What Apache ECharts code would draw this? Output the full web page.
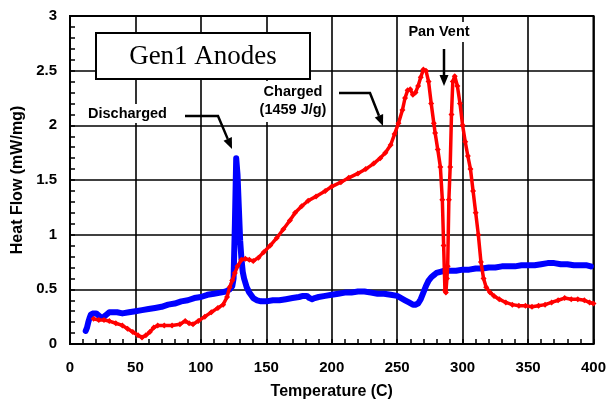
<!DOCTYPE html>
<html>
<head>
<meta charset="utf-8">
<script src="https://cdn.jsdelivr.net/npm/echarts@6/dist/echarts.min.js"></script>
<style>
  html, body { margin: 0; padding: 0; background: #fff; }
  #chart { width: 609px; height: 405px; }
</style>
</head>
<body>
<div id="chart"></div>
<script>
// DSC heat flow vs temperature for Gen1 anodes
const xTicks = { min: 0, max: 400, interval: 50 };
const yTicks = { min: 0, max: 3, interval: 0.5 };

// Discharged anode
const dischargedT = [12,13,14,15,16,17,18,20,22,24,26,28,30,33,36,40,45,50,55,60,65,70,75,80,85,90,95,100,105,110,115,119,122,124,125,126,127,128,129,130,131,132,133,135,137,140,143,146,150,155,160,165,170,175,178,181,183,185,187,190,195,200,205,210,215,220,225,230,235,240,245,250,253,256,259,262,264,266,268,270,272,274,276,278,280,283,286,290,295,300,305,310,315,320,325,330,335,340,345,350,355,360,365,370,375,380,385,390,395,398];
const dischargedHF = [0.12,0.15,0.2,0.24,0.27,0.28,0.28,0.28,0.26,0.24,0.25,0.27,0.29,0.29,0.29,0.28,0.29,0.3,0.31,0.32,0.33,0.34,0.36,0.37,0.39,0.4,0.42,0.43,0.45,0.46,0.47,0.48,0.5,0.53,0.6,1.1,1.7,1.55,1.25,0.95,0.78,0.66,0.6,0.52,0.47,0.42,0.4,0.39,0.39,0.4,0.4,0.41,0.42,0.43,0.44,0.44,0.42,0.41,0.42,0.43,0.44,0.45,0.46,0.47,0.47,0.48,0.48,0.47,0.46,0.46,0.45,0.44,0.42,0.4,0.38,0.36,0.36,0.37,0.41,0.47,0.53,0.58,0.61,0.63,0.65,0.66,0.67,0.67,0.67,0.68,0.68,0.69,0.69,0.7,0.7,0.71,0.71,0.71,0.72,0.72,0.72,0.73,0.74,0.74,0.73,0.73,0.72,0.72,0.72,0.71];

// Charged anode (1459 J/g)
const chargedT = [18,22,26,30,35,40,44,48,52,55,58,61,64,67,72,78,84,88,91,94,98,103,108,113,117,120,122,124,126,128,131,134,137,140,144,148,153,158,163,168,172,177,182,188,195,200,207,213,220,226,232,237,241,245,248,251,254,256,258,260,262,264,266,268,270,272,274,276,278,279,281,283,284.5,285.5,286.5,287.2,288,288.6,289.5,290.5,291.5,292.5,294,296,298,300,302,304,306,308,310,312,314,316,318,321,324,328,333,338,343,348,353,358,363,368,373,378,383,388,393,397,400];
const chargedHF = [0.23,0.22,0.22,0.21,0.19,0.17,0.14,0.11,0.08,0.06,0.08,0.11,0.15,0.17,0.17,0.17,0.18,0.21,0.19,0.18,0.21,0.25,0.29,0.33,0.36,0.43,0.52,0.58,0.65,0.71,0.77,0.78,0.77,0.76,0.79,0.84,0.9,0.97,1.05,1.13,1.2,1.26,1.31,1.35,1.4,1.44,1.48,1.52,1.56,1.6,1.65,1.7,1.75,1.82,1.92,2.02,2.14,2.25,2.32,2.33,2.28,2.3,2.36,2.44,2.51,2.5,2.4,2.2,2.02,1.93,1.78,1.62,1.32,0.9,0.49,0.47,0.6,0.71,1.32,1.62,2.1,2.4,2.45,2.36,2.2,2.0,1.85,1.72,1.6,1.4,1.2,1.0,0.75,0.6,0.52,0.47,0.44,0.41,0.38,0.36,0.35,0.35,0.34,0.35,0.36,0.38,0.4,0.42,0.41,0.41,0.4,0.38,0.37];

const pairs = (xs, ys) => xs.map((x, i) => [x, ys[i]]);

const FONT = '"Liberation Sans", Arial, sans-serif';
const chart = echarts.init(document.getElementById('chart'), null, { renderer: 'canvas' });

function arrowHead(tip, dir, len, half) {
  const l = Math.hypot(dir[0], dir[1]);
  const u = [dir[0] / l, dir[1] / l];
  const base = [tip[0] - u[0] * len, tip[1] - u[1] * len];
  const p = [-u[1] * half, u[0] * half];
  return {
    base: base,
    head: {
      type: 'polygon', z: 20,
      shape: { points: [tip, [base[0] + p[0], base[1] + p[1]], [base[0] - p[0], base[1] - p[1]]] },
      style: { fill: '#000' }
    }
  };
}

const a1 = arrowHead([232, 149], [14, 33], 11, 4.5);
const a2 = arrowHead([383, 126], [13, 33], 11, 4.5);
const a3 = arrowHead([444, 86], [0, 1], 11, 4.5);

const labelStyle = { fontFamily: FONT, fontWeight: 'bold', fontSize: 14.5, fill: '#000' };

chart.setOption({
  animation: false,
  backgroundColor: '#fff',
  grid: { left: 70, right: 14, top: 16, bottom: 61, show: true, borderColor: '#000', borderWidth: 2, backgroundColor: 'transparent' },
  xAxis: {
    type: 'value', min: xTicks.min, max: xTicks.max, interval: xTicks.interval,
    name: 'Temperature (C)', nameLocation: 'middle', nameGap: 40,
    nameTextStyle: { fontFamily: FONT, fontWeight: 'bold', fontSize: 16, color: '#000' },
    axisLine: { show: true, lineStyle: { color: '#000', width: 2 } },
    axisTick: { show: true, inside: true, length: 5, lineStyle: { color: '#000', width: 1.5 } },
    minorTick: { show: true, splitNumber: 5, length: 5, lineStyle: { color: '#000', width: 1.5 } },
    splitLine: { show: true, lineStyle: { color: '#000', width: 1.6 } },
    minorSplitLine: { show: false },
    axisLabel: { margin: 16, fontFamily: FONT, fontWeight: 'bold', fontSize: 15, color: '#000' }
  },
  yAxis: {
    type: 'value', min: yTicks.min, max: yTicks.max, interval: yTicks.interval,
    name: 'Heat Flow (mW/mg)', nameLocation: 'middle', nameGap: 40, nameRotate: 90,
    nameTextStyle: { fontFamily: FONT, fontWeight: 'bold', fontSize: 16, color: '#000' },
    axisLine: { show: true, lineStyle: { color: '#000', width: 2 } },
    axisTick: { show: true, inside: true, length: 5, lineStyle: { color: '#000', width: 1.5 } },
    minorTick: { show: true, splitNumber: 5, length: 5, lineStyle: { color: '#000', width: 1.5 } },
    splitLine: { show: true, lineStyle: { color: '#000', width: 1.6 } },
    minorSplitLine: { show: false },
    axisLabel: { margin: 13, fontFamily: FONT, fontWeight: 'bold', fontSize: 15, color: '#000' }
  },
  series: [
    {
      name: 'Discharged', type: 'line', data: pairs(dischargedT, dischargedHF),
      showSymbol: false, symbol: 'none', z: 3,
      lineStyle: { color: '#0000ff', width: 6, cap: 'round', join: 'round' },
      itemStyle: { color: '#0000ff' }
    },
    {
      name: 'Charged', type: 'line', data: pairs(chargedT, chargedHF),
      symbol: 'diamond', symbolSize: 6, showSymbol: true, showAllSymbol: true, z: 4,
      lineStyle: { color: '#ff0000', width: 3.5, join: 'round' },
      itemStyle: { color: '#ff0000', borderWidth: 0 }
    }
  ],
  graphic: [
    // title box
    { type: 'rect', z: 10, shape: { x: 96, y: 33, width: 214, height: 46 }, style: { fill: '#fff', stroke: '#000', lineWidth: 2 } },
    { type: 'text', z: 11, x: 203, y: 57, style: { text: 'Gen1 Anodes', fontFamily: '"Liberation Serif", "Times New Roman", serif', fontSize: 27, fill: '#000', align: 'center', verticalAlign: 'middle' } },
    // Discharged label and arrow
    { type: 'rect', z: 10, shape: { x: 83, y: 104, width: 90, height: 19 }, style: { fill: '#fff' } },
    { type: 'text', z: 11, x: 88, y: 114, style: Object.assign({ text: 'Discharged', align: 'left', verticalAlign: 'middle' }, labelStyle) },
    { type: 'polyline', z: 20, shape: { points: [[185, 116], [218, 116], a1.base] }, style: { stroke: '#000', lineWidth: 2.5, fill: null } },
    a1.head,
    // Charged label and arrow
    { type: 'rect', z: 10, shape: { x: 256, y: 81, width: 75, height: 41 }, style: { fill: '#fff' } },
    { type: 'text', z: 11, x: 293, y: 92, style: Object.assign({ text: 'Charged', align: 'center', verticalAlign: 'middle' }, labelStyle) },
    { type: 'text', z: 11, x: 293, y: 110, style: Object.assign({ text: '(1459 J/g)', align: 'center', verticalAlign: 'middle' }, labelStyle) },
    { type: 'polyline', z: 20, shape: { points: [[339, 93], [370, 93], a2.base] }, style: { stroke: '#000', lineWidth: 2.5, fill: null } },
    a2.head,
    // Pan Vent label and arrow
    { type: 'rect', z: 10, shape: { x: 404, y: 22, width: 70, height: 20 }, style: { fill: '#fff' } },
    { type: 'text', z: 11, x: 439, y: 32, style: Object.assign({ text: 'Pan Vent', align: 'center', verticalAlign: 'middle' }, labelStyle) },
    { type: 'polyline', z: 20, shape: { points: [[444, 49], a3.base] }, style: { stroke: '#000', lineWidth: 2.5, fill: null } },
    a3.head
  ]
});
</script>
</body>
</html>
